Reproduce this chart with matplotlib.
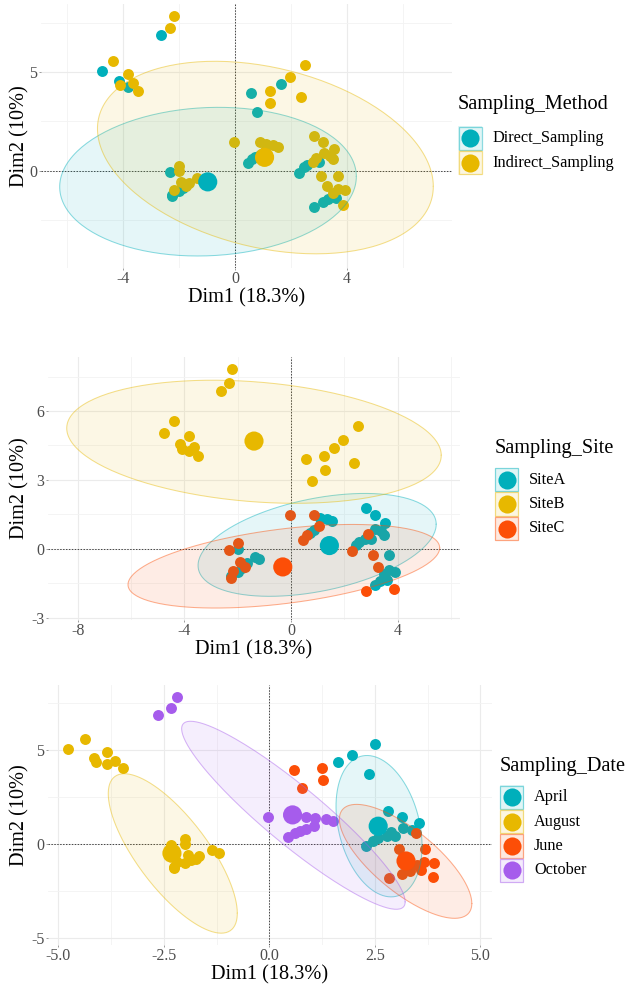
#!/usr/bin/env python
# -*- coding: utf-8 -*-
"""PCA individuals plot, coloured by three sampling factors."""

import numpy as np
import matplotlib as mpl; mpl.use('Agg')
import matplotlib.pyplot as plt

# --- data
dim1 = [-4.77, -4.38, -3.84, -4.16, -4.10, -3.84, -3.66, -3.48,
        -2.64, -2.33, -2.20,
        0.58, 1.24, 1.26, 0.78, 1.63, 1.96, 2.51, 2.36,
        -2.34, -2.00, -2.00, -1.37, -1.20, -1.92, -1.66, -1.74, -2.18,
        -2.00, -2.27, -2.25, -1.85,
        -0.03, 0.87, 1.09, 1.35, 1.52, 1.05, 0.88, 0.72, 0.60, 0.45,
        2.81, 3.14, 3.54, 3.17, 3.39, 3.48, 2.88, 2.79, 2.99, 2.57, 2.45,
        2.28, 3.08, 3.69, 3.27, 3.67, 3.91, 3.50, 3.60, 3.33, 3.15, 3.87,
        2.83]
dim2 = [5.06, 5.57, 4.90, 4.56, 4.35, 4.24, 4.43, 4.03,
        6.85, 7.22, 7.83,
        3.93, 4.03, 3.42, 2.97, 4.37, 4.73, 5.33, 3.75,
        -0.06, 0.26, -0.02, -0.34, -0.45, -0.56, -0.62, -0.78, -0.95,
        -1.02, -1.20, -1.28, -0.85,
        1.45, 1.45, 1.36, 1.31, 1.20, 0.98, 0.82, 0.70, 0.60, 0.38,
        1.76, 1.46, 1.11, 0.88, 0.77, 0.60, 0.64, 0.42, 0.42, 0.30, 0.17,
        -0.09, -0.26, -0.27, -0.78, -0.93, -0.99, -1.10, -1.36, -1.41,
        -1.58, -1.75, -1.83]
method = list('DIIDIDII' 'DII' 'DIIDDIII'
              'DIIIDIIIIDDDD' 'IIIIIIDDDD'
              'IIIIIIIIDDDDIIIIIIDDDID')
site = list('BBBBBBBB' 'BBB' 'BBBBBBBB'
            'CCAAACACCAACA' 'CCAAACAACC'
            'AAAAAACAAAACCACAAAAAACC')
date = (['August'] * 8 + ['October'] * 3 + ['June'] * 4 + ['April'] * 4
        + ['August'] * 13 + ['October'] * 10
        + ['April'] * 5 + ['June'] + ['April'] * 6 + ['June'] * 11)

method_levels = ['Direct_Sampling', 'Indirect_Sampling']
method_codes = ['D', 'I']
method_mean1 = [-0.98, 1.05]
method_mean2 = [-0.56, 0.68]
# ellipse: centre, half extent in x / y, correlation
method_ell = [(-0.97, -0.55, 5.30, 3.76, 0.07),
              (1.08, 0.67, 6.00, 4.87, -0.30)]

site_levels = ['SiteA', 'SiteB', 'SiteC']
site_codes = ['A', 'B', 'C']
site_mean1 = [1.44, -1.39, -0.31]
site_mean2 = [0.14, 4.69, -0.79]
site_ell = [(0.98, 0.17, 4.47, 2.24, 0.40),
            (-1.39, 4.66, 7.03, 2.68, -0.22),
            (-0.27, -0.76, 5.85, 1.82, 0.44)]

date_levels = ['April', 'August', 'June', 'October']
date_mean1 = [2.58, -2.31, 3.24, 0.55]
date_mean2 = [0.95, -0.49, -0.90, 1.55]
date_ell = [(2.60, 0.95, 1.02, 3.76, -0.28),
            (-2.29, -0.50, 1.53, 4.24, -0.75),
            (3.23, -0.92, 1.57, 3.03, -0.74),
            (0.57, 1.53, 2.65, 5.00, -0.92)]

COLORS = ['#00AFBB', '#E7B800', '#FC4E07', '#A65CEC']
W, H = 629, 989

plt.rcParams['font.family'] = ['Liberation Serif', 'DejaVu Serif']
plt.rcParams['axes.unicode_minus'] = False


def ellipse_xy(cx, cy, hx, hy, r, n=200):
    t = np.linspace(0, 2 * np.pi, n)
    x = cx + hx * np.cos(t)
    y = cy + r * hy * np.cos(t) + hy * np.sqrt(1 - r * r) * np.sin(t)
    return x, y


def draw_panel(box, xlab_top, groups, codes, ells, m1, m2,
               xticks, yticks, xfmt):
    l, t, r, b = box
    ax = fig.add_axes([l / W, 1 - b / H, (r - l) / W, (b - t) / H])
    x = np.asarray(dim1); y = np.asarray(dim2)
    g = np.asarray(groups)
    for i, c in enumerate(codes):
        sel = g == c
        ax.scatter(x[sel], y[sel], s=62, color=COLORS[i], lw=0, zorder=2)
    for i, e in enumerate(ells):
        ex, ey = ellipse_xy(*e)
        ax.fill(ex, ey, facecolor=COLORS[i], alpha=0.1, lw=0, zorder=3)
        ax.plot(ex, ey, color=COLORS[i], alpha=0.45, lw=0.75, zorder=3)
    ax.scatter(m1, m2, s=190, color=COLORS[:len(codes)], lw=0, zorder=4)

    ax.axhline(0, color='#444444', lw=0.7, ls=(0, (1.5, 1.5)), zorder=1)
    ax.axvline(0, color='#444444', lw=0.7, ls=(0, (1.5, 1.5)), zorder=1)

    ax.set_xticks(xticks)
    ax.set_xticklabels([xfmt.format(v) for v in xticks])
    ax.set_yticks(yticks)
    ax.set_yticklabels(['{:g}'.format(v) for v in yticks])
    sx = xticks[1] - xticks[0]
    mx = [xticks[0] - sx * 1.5, xticks[0] - sx / 2] \
        + [(a + b_) / 2 for a, b_ in zip(xticks[:-1], xticks[1:])] \
        + [xticks[-1] + sx / 2]
    sy = yticks[1] - yticks[0]
    my = [yticks[0] - sy / 2] \
        + [(a + b_) / 2 for a, b_ in zip(yticks[:-1], yticks[1:])] \
        + [yticks[-1] + sy / 2]
    ax.set_xticks(mx, minor=True)
    ax.set_yticks(my, minor=True)

    # limits from data + ellipses, 5% expansion (set after the ticks)
    xs = list(dim1) + [e[0] - e[2] for e in ells] + [e[0] + e[2] for e in ells]
    ys = list(dim2) + [e[1] - e[3] for e in ells] + [e[1] + e[3] for e in ells]
    dx = (max(xs) - min(xs)) * 0.05; dy = (max(ys) - min(ys)) * 0.05
    ax.set_xlim(min(xs) - dx, max(xs) + dx)
    ax.set_ylim(min(ys) - dy, max(ys) + dy)

    ax.grid(True, which='major', color='#EBEBEB', lw=0.8, zorder=0)
    ax.grid(True, which='minor', color='#F3F3F3', lw=0.6, zorder=0)
    ax.set_axisbelow(True)
    for s in ax.spines.values():
        s.set_visible(False)
    ax.tick_params(which='major', length=1.5, width=0.5, color='#777777',
                   labelsize=11.5, labelcolor='#4D4D4D', pad=1)
    ax.tick_params(which='minor', length=0)
    ax.set_xlabel('Dim1 (18.3%)', fontsize=14.6)
    ax.set_ylabel('Dim2 (10%)', fontsize=14.6)
    ax.xaxis.set_label_coords(0.5, -(xlab_top - b) / (b - t))
    ax.yaxis.set_label_coords(-(l - 29) / (r - l), 0.5)
    return ax


def draw_legend(x0, ytitle, ykey, title, labels):
    lg.text(x0, ytitle, title, fontsize=14.6, va='center', ha='left')
    for i, lab in enumerate(labels):
        y0 = ykey + 24.4 * i
        lg.add_patch(mpl.patches.Rectangle(
            (x0, y0), 24.4, 24.4, facecolor=COLORS[i], alpha=0.12, lw=0))
        lg.add_patch(mpl.patches.Rectangle(
            (x0 + 0.5, y0 + 0.5), 23.4, 23.4, facecolor='none',
            edgecolor=COLORS[i], alpha=0.45, lw=0.9))
        lg.scatter([x0 + 12.2], [y0 + 12.2], s=170, color=COLORS[i], lw=0)
        lg.text(x0 + 34.5, y0 + 12.2, lab, fontsize=11.7, va='center', ha='left')


fig = plt.figure(figsize=(W / 100, H / 100), dpi=100)

draw_panel((41, 4, 452, 268), 288.5, method, method_codes, method_ell,
           method_mean1, method_mean2, [-4, 0, 4], [0, 5], '{:g}')
draw_panel((48, 357, 460, 620), 640.5, site, site_codes, site_ell,
           site_mean1, site_mean2, [-8, -4, 0, 4], [-3, 0, 3, 6], '{:g}')
draw_panel((48, 685, 492, 945), 965.5, date, date_levels, date_ell,
           date_mean1, date_mean2, [-5, -2.5, 0, 2.5, 5], [-5, 0, 5], '{:.1f}')

lg = fig.add_axes([0, 0, 1, 1], zorder=10)
lg.set_xlim(0, W); lg.set_ylim(H, 0)
lg.set_axis_off()
lg.patch.set_visible(False)
draw_legend(458, 105, 126, 'Sampling_Method', method_levels)
draw_legend(494.5, 449, 467.5, 'Sampling_Site', site_levels)
draw_legend(499.5, 767, 785, 'Sampling_Date', date_levels)

fig.savefig('out.png', dpi=100)
